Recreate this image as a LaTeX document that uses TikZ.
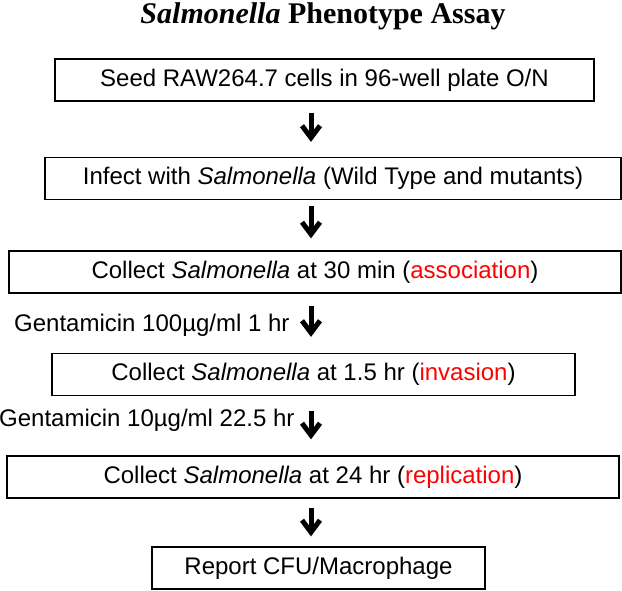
\documentclass[tikz,border=0pt]{standalone}
\usepackage{fontspec}
\setmainfont{Liberation Sans}
\newfontfamily\titlefont{Liberation Serif}
\usetikzlibrary{positioning}
\usetikzlibrary{calc}
\usetikzlibrary{arrows.meta}
\definecolor{red}{RGB}{255,0,0}

\tikzset{
  stepbox/.style={draw, line width=1.2pt, minimum height=42pt, inner sep=0pt, font=\fontsize{24}{28}\selectfont},
  flowarrow/.style={line width=5pt, -{Straight Barb[length=12pt, width=18pt, line width=5pt]}},
  dose/.style={font=\fontsize{24}{28}\selectfont, inner sep=0pt}
}

\begin{document}
\begin{tikzpicture}[x=1pt, y=-1pt]
    \useasboundingbox (0, 0) rectangle (622, 590);
    \node[font=\titlefont\bfseries\fontsize{30}{33}\selectfont, anchor=base] (title) at (323, 23) {\textit{Salmonella} Phenotype Assay};
    \coordinate (axis) at (311, 0);

    \node[stepbox, minimum width=539pt] (seed) at (324.5, 80) {Seed RAW264.7 cells in 96-well plate O/N};
    \node[stepbox, minimum width=576pt] (infect) at (333, 178.5) {Infect with \textit{Salmonella} (Wild Type and mutants)};
    \node[stepbox, minimum width=612pt] (assoc) at (315, 272) {Collect \textit{Salmonella} at 30 min (\textcolor{red}{association})};
    \node[stepbox, minimum width=523pt] (invas) at (313.5, 374.5) {Collect \textit{Salmonella} at 1.5 hr (\textcolor{red}{invasion})};
    \node[stepbox, minimum width=612pt] (repl) at (313, 477) {Collect \textit{Salmonella} at 24 hr (\textcolor{red}{replication})};
    \node[stepbox, minimum width=333pt] (report) at (318.5, 568) {Report CFU/Macrophage};

    \draw[flowarrow, shorten <=11pt, shorten >=15pt] (seed.south -| axis) -- (infect.north -| axis);
    \draw[flowarrow, shorten <=6pt, shorten >=12pt] (infect.south -| axis) -- (assoc.north -| axis);
    \draw[flowarrow, shorten <=12pt, shorten >=16pt] (assoc.south -| axis) -- node[dose, left=19pt, yshift=-2pt] (gent1) {Gentamicin 100µg/ml 1 hr} (invas.north -| axis);
    \draw[flowarrow, shorten <=15pt, shorten >=16pt] (invas.south -| axis) -- node[dose, left=14pt, yshift=5pt] (gent2) {Gentamicin 10µg/ml 22.5 hr} (repl.north -| axis);
    \draw[flowarrow, shorten <=9pt, shorten >=10pt] (repl.south -| axis) -- (report.north -| axis);
\end{tikzpicture}
\end{document}
